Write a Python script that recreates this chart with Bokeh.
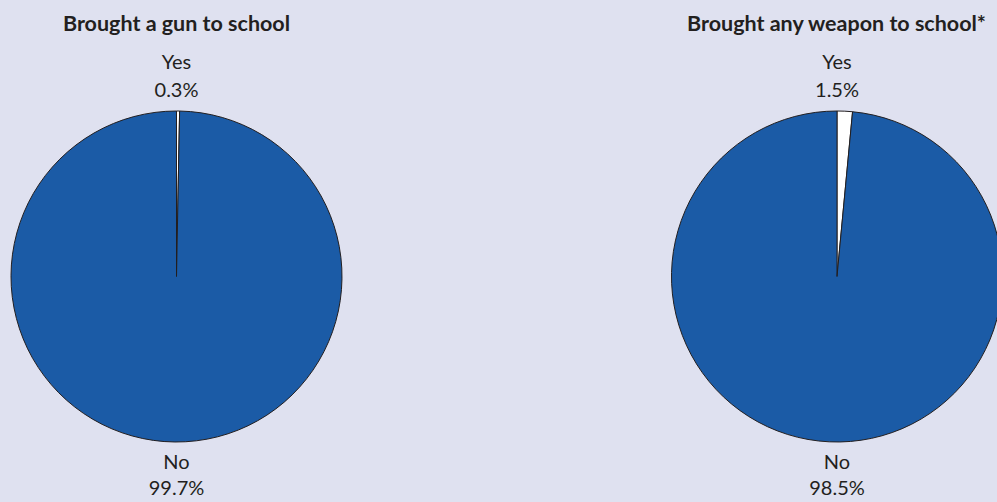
from bokeh.plotting import figure
from bokeh.models import Range1d, ColumnDataSource
from bokeh.core.properties import value
from bokeh.embed import file_html
from bokeh.resources import INLINE
import math

# ---- data ----
titles = ["Brought a gun to school", "Brought any weapon to school*"]
categories = ["Yes", "No"]
yes_pct = [0.3, 1.5]
no_pct = [99.7, 98.5]
slice_colors = ["#ffffff", "#1b5ba6"]

# ---- layout ----
W, H = 997, 502
BG = "#dfe1f0"
TXT = "#231f20"
centers_x = [176, 836.5]
center_y = H - 276
radius = 165.5
BASE_FIX = 9  # renderer places alphabetic baseline slightly lower

def fy(img_y):
    return H - (img_y - BASE_FIX)

p = figure(width=W, height=H, output_backend="svg", toolbar_location=None,
           x_range=Range1d(0, W), y_range=Range1d(0, H), min_border=0)
p.axis.visible = False
p.grid.visible = False
p.outline_line_color = None
p.background_fill_color = BG
p.border_fill_color = BG

FONT = "Lato"

for i in range(2):
    vals = [yes_pct[i], no_pct[i]]
    total = sum(vals)
    starts, ends = [], []
    acc = 0.0
    for v in vals:
        a0 = math.pi / 2 - 2 * math.pi * acc / total
        acc += v
        a1 = math.pi / 2 - 2 * math.pi * acc / total
        starts.append(a0)
        ends.append(a1)
    src = ColumnDataSource(dict(x=[centers_x[i]] * 2, y=[center_y] * 2,
                                start=starts, end=ends, color=slice_colors,
                                cat=categories))
    p.wedge(x="x", y="y", radius=radius, start_angle="start", end_angle="end",
            direction="clock", fill_color="color", line_color=TXT, line_width=1,
            source=src)

    cx = centers_x[i]
    p.text(x=[cx], y=[fy(31)], text=[titles[i]], text_font=value(FONT),
           text_font_style="bold", text_font_size="21.5px", text_align="center",
           text_baseline="alphabetic", text_color=TXT)
    p.text(x=[cx, cx], y=[fy(69), fy(97)],
           text=[categories[0], f"{yes_pct[i]}%"], text_font=value(FONT),
           text_font_size="20px", text_align="center",
           text_baseline="alphabetic", text_color=TXT)
    p.text(x=[cx, cx], y=[fy(469), fy(495)],
           text=[categories[1], f"{no_pct[i]}%"], text_font=value(FONT),
           text_font_size="20px", text_align="center",
           text_baseline="alphabetic", text_color=TXT)

html = file_html(p, INLINE)
html = html.replace("<head>", "<head><style>body{background-color:%s;}</style>" % BG, 1)
open("out.html", "w").write(html)
